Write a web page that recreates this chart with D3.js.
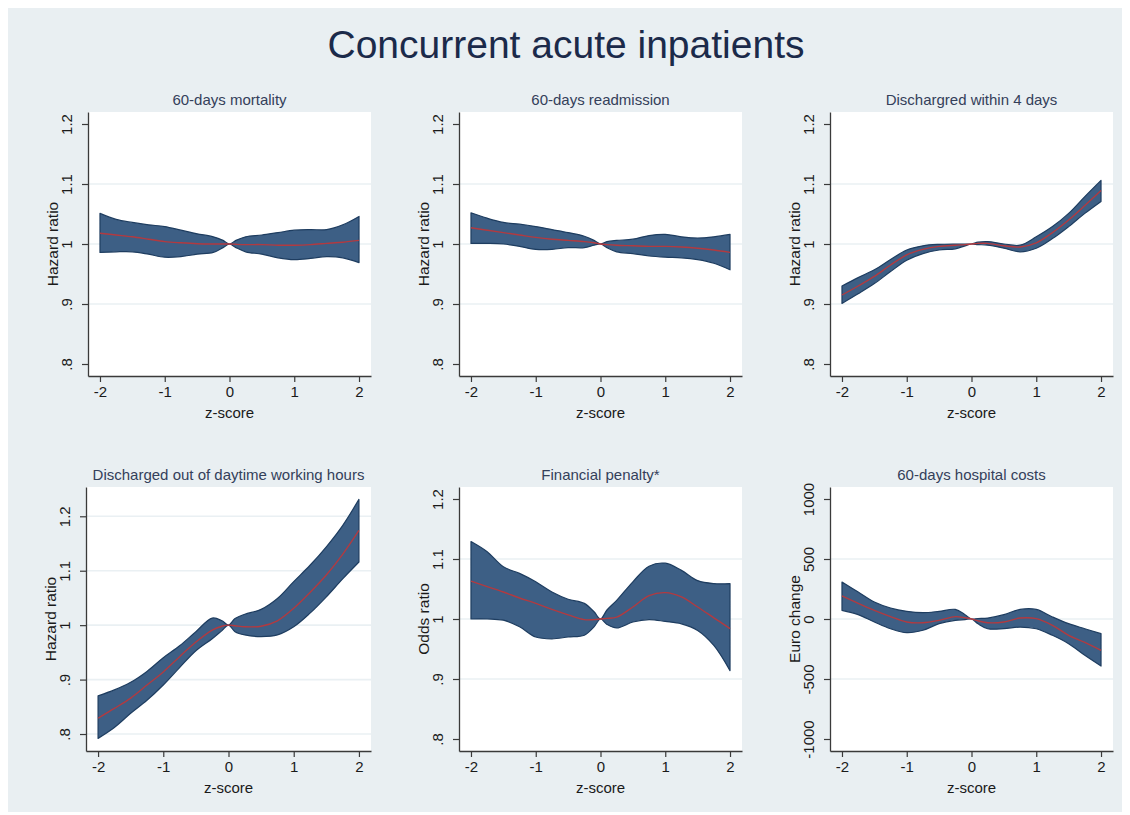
<!DOCTYPE html>
<html><head><meta charset="utf-8">
<script src="https://cdn.jsdelivr.net/npm/d3@7"></script>
<style>
body{margin:0;background:#ffffff;}
svg text{font-family:"Liberation Sans",Arial,sans-serif;}
</style></head>
<body>
<svg id="chart" width="1130" height="815"></svg>
<script>
const mainTitle = "Concurrent acute inpatients";
const zGrid = [-2,-1.75,-1.5,-1.25,-1,-0.75,-0.5,-0.25,-0.1,0,0.1,0.25,0.5,0.75,1,1.25,1.5,1.75,2];
const xTicks = [-2,-1,0,1,2];
const xTickLabels = ["-2","-1","0","1","2"];
const xLabel = "z-score";

const panelTitles = ["60-days mortality","60-days readmission","Dischargred within 4 days",
  "Discharged out of daytime working hours","Financial penalty*","60-days hospital costs"];
const yLabels = ["Hazard ratio","Hazard ratio","Hazard ratio","Hazard ratio","Odds ratio","Euro change"];
const ratioTicks = [0.8,0.9,1,1.1,1.2];
const ratioTickLabels = [".8",".9","1","1.1","1.2"];
const euroTicks = [-1000,-500,0,500,1000];
const euroTickLabels = ["-1000","-500","0","500","1000"];

// 60-days mortality
const mortEst = [1.018,1.015,1.012,1.008,1.004,1.002,1.0005,1.0,1.0,1,0.9995,0.999,0.999,0.998,0.998,0.999,1.001,1.003,1.006];
const mortLo  = [0.986,0.987,0.987,0.983,0.978,0.979,0.983,0.986,0.994,1,0.994,0.987,0.983,0.977,0.974,0.976,0.979,0.977,0.969];
const mortHi  = [1.051,1.041,1.036,1.032,1.029,1.023,1.017,1.012,1.006,1,1.006,1.012,1.015,1.019,1.023,1.024,1.024,1.032,1.046];
// 60-days readmission
const readEst = [1.027,1.023,1.019,1.015,1.011,1.008,1.006,1.004,1.002,1,0.999,0.998,0.997,0.996,0.996,0.995,0.993,0.990,0.986];
const readLo  = [1.001,1.001,1.0,0.996,0.991,0.991,0.994,0.994,0.998,1,0.994,0.987,0.984,0.980,0.978,0.977,0.974,0.968,0.957];
const readHi  = [1.052,1.043,1.036,1.033,1.029,1.024,1.019,1.013,1.006,1,1.004,1.006,1.008,1.014,1.016,1.012,1.010,1.012,1.016];
// Discharged within 4 days
const d4Est = [0.915,0.930,0.946,0.965,0.982,0.991,0.996,0.998,0.999,1,1.001,1.001,0.997,0.995,1.002,1.019,1.040,1.064,1.089];
const d4Lo  = [0.901,0.917,0.934,0.954,0.973,0.984,0.990,0.992,0.997,1,0.999,0.998,0.993,0.987,0.993,1.009,1.029,1.051,1.071];
const d4Hi  = [0.930,0.944,0.957,0.974,0.990,0.997,0.9994,1.0,1.0,1,1.003,1.004,1.0,0.998,1.012,1.029,1.051,1.079,1.106];
// Discharged out of daytime working hours
const outEst = [0.829,0.847,0.866,0.890,0.914,0.942,0.969,0.991,0.998,1,0.999,0.997,0.998,1.008,1.031,1.060,1.092,1.130,1.174];
const outLo  = [0.792,0.812,0.838,0.862,0.890,0.922,0.953,0.975,0.990,1,0.988,0.982,0.979,0.982,0.997,1.022,1.052,1.085,1.116];
const outHi  = [0.870,0.881,0.895,0.915,0.940,0.962,0.988,1.013,1.008,1,1.012,1.020,1.029,1.049,1.080,1.110,1.144,1.183,1.231];
// Financial penalty
const finEst = [1.063,1.054,1.045,1.035,1.026,1.016,1.007,0.999,0.999,1,1.001,1.003,1.020,1.039,1.044,1.037,1.020,1.002,0.984];
const finLo  = [1.0,1.0,0.998,0.987,0.970,0.967,0.970,0.973,0.987,1,0.991,0.985,0.995,0.999,0.996,0.992,0.981,0.956,0.914];
const finHi  = [1.129,1.112,1.087,1.076,1.062,1.045,1.033,1.026,1.012,1,1.015,1.031,1.062,1.088,1.093,1.081,1.064,1.059,1.059];
// 60-days hospital costs
const costEst = [192,130,72,20,-25,-31,-11,20,10,0,-15,-31,-25,8,3,-53,-136,-195,-261];
const costLo  = [72,36,-25,-81,-114,-94,-39,-11,-5,0,-40,-81,-81,-67,-81,-136,-206,-303,-392];
const costHi  = [308,225,142,92,64,53,64,80,36,0,4,8,36,80,80,17,-39,-81,-122];

const seriesEst = [mortEst,readEst,d4Est,outEst,finEst,costEst];
const seriesLo = [mortLo,readLo,d4Lo,outLo,finLo,costLo];
const seriesHi = [mortHi,readHi,d4Hi,outHi,finHi,costHi];

// layout (styles/positions)
const panelBoxes = [
  {x0:88,x1:371,y0:112,y1:376,dom:[0.78,1.22]},
  {x0:459,x1:742,y0:112,y1:376,dom:[0.78,1.22]},
  {x0:830,x1:1113,y0:112,y1:376,dom:[0.78,1.22]},
  {x0:86,x1:371,y0:487,y1:751,dom:[0.7688,1.2538]},
  {x0:459,x1:742,y0:487,y1:751,dom:[0.78,1.22]},
  {x0:830,x1:1113,y0:487,y1:751,dom:[-1100,1100]}
];

const svg = d3.select("#chart");
svg.append("rect").attr("x",8).attr("y",8).attr("width",1114).attr("height",804).attr("fill","#e9eff2");
svg.append("text").attr("x",566).attr("y",58).attr("text-anchor","middle")
  .attr("font-size",39).attr("fill","#1b2a4a").text(mainTitle);

panelBoxes.forEach((b,i)=>{
  const g = svg.append("g");
  const x = d3.scaleLinear().domain([-2.185,2.185]).range([b.x0,b.x1]);
  const y = d3.scaleLinear().domain(b.dom).range([b.y1,b.y0]);
  const isEuro = i===5;
  const yT = isEuro ? euroTicks : ratioTicks;
  const yTL = isEuro ? euroTickLabels : ratioTickLabels;

  g.append("rect").attr("x",b.x0).attr("y",b.y0).attr("width",b.x1-b.x0).attr("height",b.y1-b.y0).attr("fill","#ffffff");
  // grid lines (skip those at the scale ends)
  yT.forEach(t=>{
    const py = y(t);
    if ((py - b.y0 < 15 || b.y1 - py < 15) && i!==3) return;
    g.append("line").attr("x1",b.x0).attr("x2",b.x1).attr("y1",py).attr("y2",py)
      .attr("stroke","#eaf0f3").attr("stroke-width",1.6);
  });

  const pts = zGrid.map((z,k)=>({z:z,e:seriesEst[i][k],lo:seriesLo[i][k],hi:seriesHi[i][k]}));
  const area = d3.area().x(d=>x(d.z)).y0(d=>y(d.lo)).y1(d=>y(d.hi)).curve(d3.curveCatmullRom.alpha(0.5));
  g.append("path").attr("d",area(pts)).attr("fill","#3d5f85").attr("stroke","#1e3d60").attr("stroke-width",1.2).attr("stroke-linejoin","round");
  const line = d3.line().x(d=>x(d.z)).y(d=>y(d.e)).curve(d3.curveCatmullRom.alpha(0.5));
  g.append("path").attr("d",line(pts)).attr("fill","none").attr("stroke","#b23a40").attr("stroke-width",1.4);

  // axes
  const xa = g.append("g").attr("transform",`translate(0,${b.y1})`)
    .call(d3.axisBottom(x).tickValues(xTicks).tickSize(6).tickSizeOuter(0).tickFormat((d,k)=>xTickLabels[k]));
  xa.select(".domain").attr("stroke","#3a3a3a").attr("stroke-width",1.3);
  xa.selectAll(".tick line").attr("stroke","#3a3a3a").attr("stroke-width",1.2);
  xa.selectAll(".tick text").attr("font-size",15).attr("fill","#1a1a1a").attr("dy","0.9em").attr("y",7);

  const ya = g.append("g").attr("transform",`translate(${b.x0},0)`)
    .call(d3.axisLeft(y).tickValues(yT).tickSize(6).tickSizeOuter(0).tickFormat((d,k)=>yTL[k]));
  ya.select(".domain").attr("stroke","#3a3a3a").attr("stroke-width",1.3);
  ya.selectAll(".tick line").attr("stroke","#3a3a3a").attr("stroke-width",1.2);
  ya.selectAll(".tick text").attr("font-size",15).attr("fill","#1a1a1a")
    .attr("x",0).attr("dy",0).attr("text-anchor","middle")
    .attr("transform","translate(-16,0) rotate(-90)");

  g.append("text").attr("x",(b.x0+b.x1)/2).attr("y",b.y1+42).attr("text-anchor","middle")
    .attr("font-size",15).attr("fill","#1a1a1a").text(xLabel);
  g.append("text").attr("transform",`translate(${b.x0-30},${(b.y0+b.y1)/2}) rotate(-90)`)
    .attr("text-anchor","middle").attr("font-size",15.5).attr("fill","#1a1a1a").text(yLabels[i]);
  g.append("text").attr("x",(b.x0+b.x1)/2).attr("y",b.y0-7).attr("text-anchor","middle")
    .attr("font-size",15).attr("fill","#34405a").text(panelTitles[i]);
});
</script>
</body></html>
